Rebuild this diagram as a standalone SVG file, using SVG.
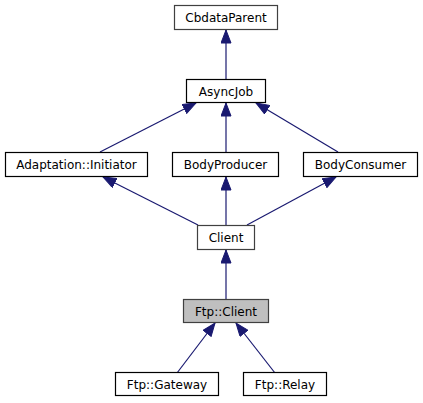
<svg xmlns="http://www.w3.org/2000/svg" width="423" height="403" viewBox="0 0 423 403">
<style>
.n rect{fill:#ffffff;stroke:#000000;stroke-width:1.2}
.n.g rect{stroke:#404040}
.n.cur rect{fill:#bfbfbf;stroke:#404040}
.n text{font-family:"DejaVu Sans",sans-serif;font-size:12px;text-anchor:middle;fill:#000000}
#edges line{stroke:#191970;stroke-width:1.2;marker-end:url(#arr)}
</style>
<defs>
<marker id="arr" markerUnits="userSpaceOnUse" markerWidth="14" markerHeight="11" refX="13.5" refY="5.5" orient="auto" viewBox="0 0 14 11">
<path d="M0.5,0.5 L13.5,5.5 L0.5,10.5 z" fill="#191970" stroke="#191970" stroke-width="1"/>
</marker>
</defs>
<rect width="423" height="403" fill="#ffffff"/>
<g id="edges">
<line x1="226" y1="79" x2="226" y2="30"/>
<line x1="100" y1="152" x2="196" y2="103"/>
<line x1="226" y1="152" x2="226" y2="103"/>
<line x1="338" y1="152" x2="256" y2="103"/>
<line x1="198" y1="225" x2="103" y2="177"/>
<line x1="226" y1="225" x2="226" y2="177"/>
<line x1="247" y1="225" x2="336" y2="177"/>
<line x1="226" y1="299" x2="226" y2="250"/>
<line x1="177" y1="373" x2="215" y2="323"/>
<line x1="275" y1="373" x2="236" y2="323"/>
</g>
<g id="CbdataParent" class="n g"><rect x="174.5" y="5.5" width="103" height="24"/><text x="226" y="21.5">CbdataParent</text></g>
<g id="AsyncJob" class="n"><rect x="186.5" y="79.5" width="79" height="23"/><text x="226" y="95.5">AsyncJob</text></g>
<g id="AdaptationInitiator" class="n"><rect x="5.5" y="152.5" width="142" height="24"/><text x="76.5" y="168.5">Adaptation::Initiator</text></g>
<g id="BodyProducer" class="n"><rect x="172.5" y="152.5" width="106" height="24"/><text x="225.5" y="168.5">BodyProducer</text></g>
<g id="BodyConsumer" class="n"><rect x="303.5" y="152.5" width="114" height="24"/><text x="360.5" y="168.5">BodyConsumer</text></g>
<g id="Client" class="n g"><rect x="197.5" y="225.5" width="57" height="24"/><text x="226" y="241.5">Client</text></g>
<g id="FtpClient" class="n cur"><rect x="183.5" y="299.5" width="85" height="23"/><text x="226" y="315.5">Ftp::Client</text></g>
<g id="FtpGateway" class="n"><rect x="115.5" y="372.5" width="103" height="23"/><text x="167" y="388.5">Ftp::Gateway</text></g>
<g id="FtpRelay" class="n"><rect x="243.5" y="372.5" width="83" height="23"/><text x="285" y="388.5">Ftp::Relay</text></g>
</svg>
